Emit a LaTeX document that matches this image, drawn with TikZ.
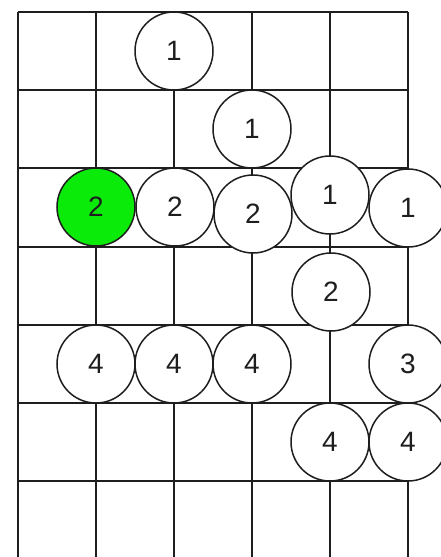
\documentclass[tikz,border=0pt]{standalone}
\usepackage{fontspec}
\setmainfont{Liberation Sans}
\definecolor{lime}{RGB}{10,235,10}
\definecolor{ink}{RGB}{30,30,30}
\begin{document}
\begin{tikzpicture}[x=1pt,y=-1pt,
  gridline/.style={line width=2pt,draw=ink},
  stone/.style={circle,draw=ink,line width=1.5pt,fill=white,minimum size=78pt,inner sep=0pt,
    font=\fontsize{28}{28}\selectfont,text=ink},
  greenstone/.style={stone,fill=lime}]
\useasboundingbox (0,0) rectangle (441,557);
\clip (0,0) rectangle (441,557);
\fill[white] (0,0) rectangle (441,557);
% grid
\foreach \x in {18,96,174,252,330,408}
  \draw[gridline] (\x,12) -- (\x,560);
\foreach \y in {12,90,168,247,325,403,481}
  \draw[gridline] (18,\y) -- (408,\y);
% stones
\node[stone] (a1) at (174,51) {1};
\node[stone] (a2) at (252,129) {1};
\node[greenstone] (b1) at (96,207) {2};
\node[stone] (b2) at (175,207) {2};
\node[stone] (b3) at (253,214) {2};
\node[stone] (b4) at (330,195) {1};
\node[stone] (b5) at (408,208) {1};
\node[stone] (c1) at (331,292) {2};
\node[stone] (d1) at (96,364) {4};
\node[stone] (d2) at (174,364) {4};
\node[stone] (d3) at (252,364) {4};
\node[stone] (d4) at (408,364) {3};
\node[stone] (e1) at (330,442) {4};
\node[stone] (e2) at (408,442) {4};
\end{tikzpicture}
\end{document}
